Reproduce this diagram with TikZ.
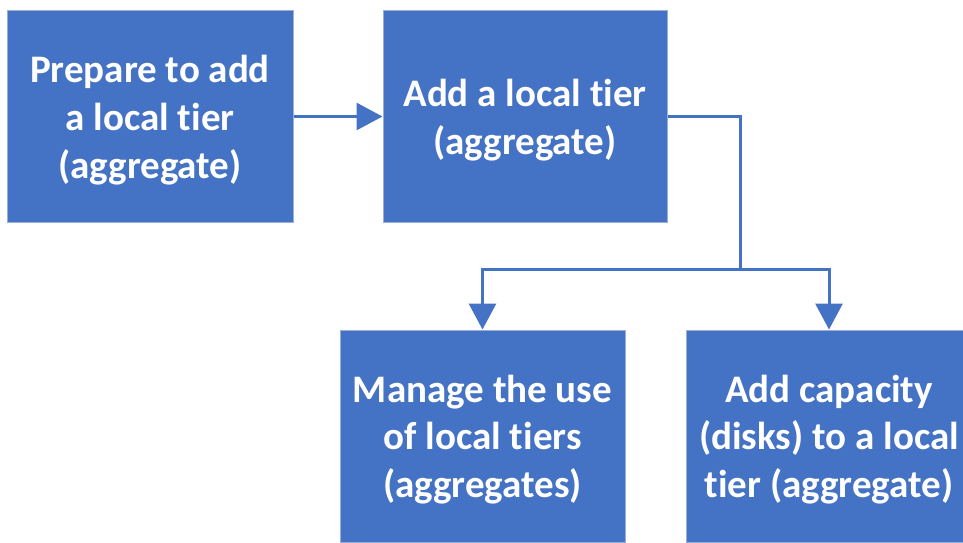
\documentclass[tikz,border=0pt]{standalone}
\usepackage{fontspec}
\setmainfont{Carlito}[Ligatures={NoCommon}]
\usepackage{tikz}
\usetikzlibrary{arrows.meta,positioning,calc}
\definecolor{tierblue}{HTML}{4472C4}
\definecolor{tieredge}{HTML}{9AAFD6}
\newcommand{\tierstrut}{\rule{0pt}{34.5pt}}

\begin{document}
\begin{tikzpicture}[
  x=1pt, y=-1pt,
  font=\fontsize{39}{47.6}\selectfont\bfseries,
  >={Triangle[length=26pt,width=27pt]},
  tierbox/.style={
    draw=tieredge,
    fill=tierblue,
    line width=1pt,
    text=white,
    align=center,
    minimum width=286pt,
    minimum height=212pt,
    inner sep=0pt
  },
  flow/.style={
    draw=tierblue,
    line width=3pt
  }
]

  % Canvas
  \useasboundingbox (0,0) rectangle (963,542);
  \clip (0,0) rectangle (963,542);

  % Top row
  \node[tierbox] (prepare) at (150,116.5) {\tierstrut Prepare to add\\a local tier\\(aggregate)};
  \node[tierbox, minimum width=284pt] (addtier) at (525,116.5) {\tierstrut Add a local tier\\(aggregate)};

  % Bottom row
  \node[tierbox, minimum width=285pt] (manage) at (482.5,436) {\tierstrut Manage the use\\of local tiers\\(aggregates)};
  \node[tierbox] (capacity) at (829,436) {\tierstrut Add capacity\\(disks) to a local\\tier (aggregate)};

  % Connectors
  \coordinate (split) at (740,269);
  \draw[flow, ->] (prepare.east) -- (addtier.west);
  \draw[flow] (addtier.east) -| (split);
  \draw[flow, ->] (split) -| (manage.north);
  \draw[flow, ->] (split) -| (capacity.north);

\end{tikzpicture}
\end{document}
